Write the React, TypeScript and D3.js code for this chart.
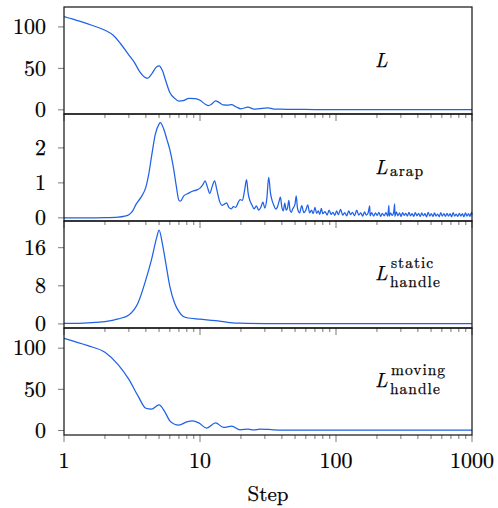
import React from 'react';
import { scaleLog, scaleLinear, line, curveMonotoneX } from 'd3';

// step / value pairs
const lossData: [number, number][] = [
  [1, 112.5], [1.3, 107], [1.6, 102], [2, 96], [2.3, 90], [2.6, 80], [3, 66], [3.3, 57],
  [3.6, 46], [3.9, 39.5], [4.1, 38], [4.4, 43], [4.8, 52], [5, 53], [5.3, 47], [5.6, 35],
  [6, 21], [6.5, 14], [7, 10.5], [7.5, 11], [8.3, 13.8], [9.2, 13.5], [10, 11.5], [11, 6.5],
  [11.5, 5.2], [12.3, 7.5], [13, 10.8], [13.8, 9], [14.8, 6], [16, 5.8], [17, 6.4], [18.5, 3.5],
  [20, 1.3], [22.5, 3.2], [25, 0.9], [27.5, 1.6], [31.5, 2.4], [35, 1], [40, 0.8], [50, 0.5],
  [70, 0.4], [100, 0.3], [200, 0.25], [500, 0.2], [1000, 0.2],
];

const arapData: [number, number][] = [
  [1, 0], [1.5, 0], [2, 0.005], [2.5, 0.02], [2.8, 0.05], [3, 0.09], [3.2, 0.2], [3.4, 0.4],
  [3.7, 0.6], [4, 0.88], [4.2, 1.25], [4.4, 1.75], [4.7, 2.4], [5, 2.68], [5.1, 2.72], [5.4, 2.55],
  [5.7, 2.25], [6, 1.95], [6.4, 1.4], [6.7, 0.9], [7, 0.5], [7.2, 0.48], [7.6, 0.63], [8.2, 0.7],
  [8.8, 0.76], [9.5, 0.8], [10, 0.85], [10.5, 0.95], [10.9, 1.06], [11.3, 0.9], [11.8, 0.7],
  [12.3, 0.9], [12.8, 1.06], [13.3, 0.8], [14, 0.45], [14.5, 0.36], [15.2, 0.4], [15.7, 0.43],
  [16.3, 0.3], [17, 0.26], [17.6, 0.32], [18.3, 0.3], [19, 0.42], [19.7, 0.52], [20.5, 0.5],
  [21.3, 0.8], [22, 1.09], [22.6, 0.7], [23.2, 0.51], [24, 0.38], [25, 0.26], [26, 0.34],
  [27, 0.22], [28, 0.3], [29, 0.45], [30, 0.28], [31, 0.55], [32, 1.16], [33, 0.7], [34, 0.48],
  [35, 0.35], [36, 0.25], [37, 0.3], [38, 0.45], [39, 0.59], [40, 0.3], [41, 0.2], [42, 0.42],
  [43, 0.22], [44, 0.28], [45, 0.5], [46, 0.2], [47, 0.16], [48, 0.25], [50, 0.4], [51, 0.63],
  [52, 0.3], [53, 0.18], [54, 0.14], [56, 0.35], [58, 0.15], [60, 0.22], [62, 0.37], [64, 0.14],
  [66, 0.22], [68, 0.12], [70, 0.3], [72, 0.13], [74, 0.2], [76, 0.1], [78, 0.27], [80, 0.12],
  [83, 0.18], [86, 0.08], [89, 0.22], [92, 0.1], [95, 0.16], [98, 0.07], [101, 0.2], [104, 0.09],
  [108, 0.24], [112, 0.08], [116, 0.15], [120, 0.06], [124, 0.2], [128, 0.09], [132, 0.16],
  [137, 0.06], [142, 0.22], [147, 0.08], [152, 0.14], [157, 0.05], [162, 0.17], [167, 0.08],
  [172, 0.13], [177, 0.34], [178, 0.06], [183, 0.15], [189, 0.05], [195, 0.14], [201, 0.07],
  [207, 0.16], [213, 0.04], [219, 0.13], [226, 0.06], [233, 0.15], [240, 0.05], [245, 0.36],
  [246, 0.05], [252, 0.14], [259, 0.07], [266, 0.18], [270, 0.4], [271, 0.04], [278, 0.17],
  [285, 0.06], [293, 0.14], [301, 0.04], [309, 0.15], [317, 0.07], [326, 0.13], [335, 0.05],
  [344, 0.16], [353, 0.06], [363, 0.12], [373, 0.04], [383, 0.15], [394, 0.06], [405, 0.13],
  [416, 0.04], [427, 0.14], [439, 0.06], [451, 0.12], [463, 0.03], [476, 0.16], [489, 0.05],
  [502, 0.12], [516, 0.04], [530, 0.14], [544, 0.05], [559, 0.11], [574, 0.03], [589, 0.15],
  [605, 0.05], [621, 0.12], [638, 0.04], [655, 0.13], [672, 0.05], [690, 0.12], [708, 0.03],
  [727, 0.15], [746, 0.05], [766, 0.11], [786, 0.04], [807, 0.13], [828, 0.05], [850, 0.12],
  [872, 0.03], [895, 0.14], [918, 0.05], [942, 0.12], [966, 0.04], [991, 0.16], [1000, 0.08],
];

const staticData: [number, number][] = [
  [1, 0.1], [1.5, 0.25], [2, 0.5], [2.5, 1.05], [3, 1.9], [3.5, 4.4], [4, 9.3], [4.4, 13.5],
  [4.8, 18.1], [5, 19.7], [5.3, 16.7], [5.6, 12.8], [6, 7.9], [6.5, 4.4], [7, 2.6], [7.5, 1.6],
  [8, 1.3], [10, 1.0], [13, 0.7], [16, 0.35], [20, 0.15], [30, 0.08], [100, 0.05], [1000, 0.05],
];

const movingData: [number, number][] = [
  [1, 112], [1.5, 103], [2, 95], [2.5, 80], [3, 62], [3.5, 42], [4, 27], [4.4, 26], [5, 31],
  [5.5, 23], [6, 11.6], [6.5, 7.6], [7, 6.6], [8, 10.5], [8.8, 11.6], [9.8, 9.2], [11.2, 2.8],
  [13, 9.2], [14.9, 3.8], [17.1, 5.2], [19.7, 0.8], [22.6, 1.6], [24.8, 0.7], [27.6, 1.6],
  [32, 1.2], [40, 0.4], [100, 0.3], [1000, 0.3],
];

const yTicks1 = [0, 50, 100];
const yTicks2 = [0, 1, 2];
const yTicks3 = [0, 8, 16];
const yTicks4 = [0, 50, 100];
const xTickLabels = [1, 10, 100, 1000];

const W = 498;
const H = 508;
const left = 64;
const right = 472;
const panelTops = [7, 114, 221, 328];
const panelH = 107;
const blue = '#1f62e6';
const font = 'Latin Modern Roman';

const x = scaleLog().domain([1, 1000]).range([left, right]);

const panels = [
  { data: lossData, domain: [-5, 124], ticks: yTicks1, sup: '', sub: '' },
  { data: arapData, domain: [-0.09, 2.97], ticks: yTicks2, sup: '', sub: 'arap' },
  { data: staticData, domain: [-0.85, 21.6], ticks: yTicks3, sup: 'static', sub: 'handle' },
  { data: movingData, domain: [-5.5, 124.5], ticks: yTicks4, sup: 'moving', sub: 'handle' },
];

const labelBaselines = [67, 174, 280, 387];

// slight outline so the thin roman face reads as dark as the reference
const txt = { fontFamily: font, fill: '#000', stroke: '#000', strokeWidth: 0.25 };

const App = () => {
  const minor = x.ticks();
  return (
    <svg width={W} height={H} style={{ position: 'absolute', left: 0, top: 0 }}>
      {panels.map((p, i) => {
        const top = panelTops[i];
        const y = scaleLinear().domain(p.domain).range([top + panelH, top]);
        const path = line<[number, number]>()
          .x(d => x(d[0]))
          .y(d => y(d[1]))
          .curve(curveMonotoneX)(p.data);
        const lb = labelBaselines[i];
        return (
          <g key={i}>
            <path d={path || ''} fill="none" stroke={blue} strokeWidth={1.25} />
            {p.ticks.map(t => (
              <g key={t}>
                <line x1={left - 6} x2={left} y1={y(t)} y2={y(t)} stroke="#555" strokeWidth={0.8} />
                <text x={46} y={y(t)} dy="0.33em" textAnchor="end" fontSize={22} {...txt}>{t}</text>
              </g>
            ))}
            {minor.map(t => {
              const major = xTickLabels.includes(t);
              return (
                <line key={t} x1={x(t)} x2={x(t)} y1={top + panelH} y2={top + panelH + (major ? 7 : 4)}
                  stroke="#555" strokeWidth={0.8} />
              );
            })}
            <rect x={left} y={top} width={right - left} height={panelH} fill="none" stroke="#111" strokeWidth={1.2} />
            <text x={375} y={lb} fontSize={20} fontStyle="italic" {...txt}>L</text>
            {p.sub && (
              <text x={390} y={p.sup ? lb + 7 : lb + 2} fontSize={15.5} letterSpacing={1} {...txt}>{p.sub}</text>
            )}
            {p.sup && (
              <text x={391} y={lb - 12} fontSize={15.5} letterSpacing={1} {...txt}>{p.sup}</text>
            )}
          </g>
        );
      })}
      {xTickLabels.map(t => (
        <text key={t} x={x(t)} y={468} textAnchor="middle" fontSize={22} {...txt}>{t}</text>
      ))}
      <text x={268} y={501} textAnchor="middle" fontSize={21} {...txt}>Step</text>
    </svg>
  );
};

export default App;
